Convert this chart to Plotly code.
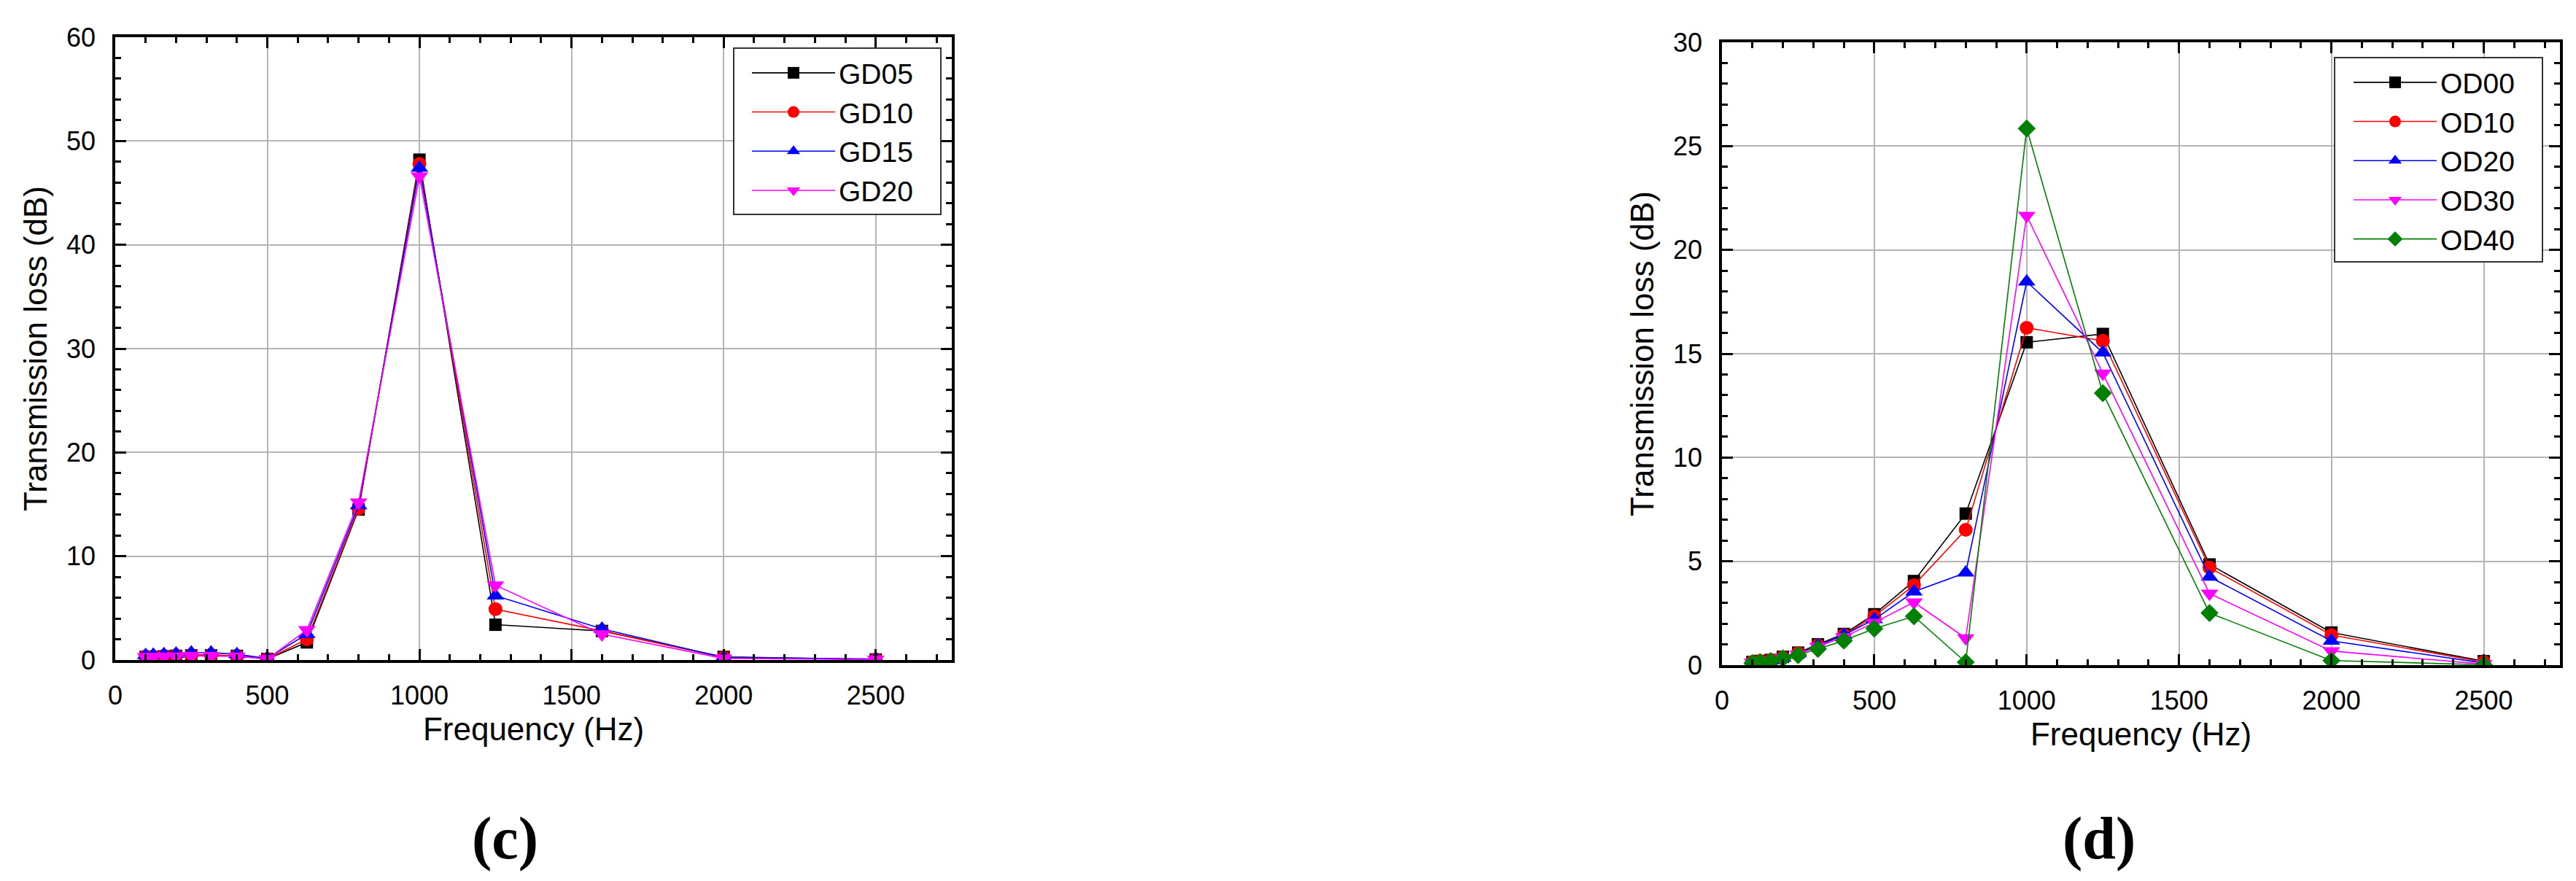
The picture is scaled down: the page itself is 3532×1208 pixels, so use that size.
"""Transmission loss vs frequency, panels (c) and (d)."""

import plotly.graph_objects as go

FREQ_HZ = [100, 125, 160, 200, 250, 315, 400, 500, 630, 800, 1000, 1250, 1600, 2000, 2500]

GD_NAMES = ["GD05", "GD10", "GD15", "GD20"]
GD05 = [0.3, 0.3, 0.35, 0.4, 0.45, 0.45, 0.4, 0.1, 1.7, 14.5, 48.2, 3.4, 2.8, 0.3, 0.05]
GD10 = [0.35, 0.35, 0.4, 0.45, 0.5, 0.5, 0.4, 0.1, 2.0, 14.6, 47.8, 4.9, 2.8, 0.25, 0.05]
GD15 = [0.45, 0.5, 0.55, 0.6, 0.7, 0.7, 0.55, 0.15, 2.5, 14.9, 47.4, 6.2, 3.0, 0.25, 0.1]
GD20 = [0.3, 0.3, 0.35, 0.35, 0.4, 0.4, 0.35, 0.1, 2.9, 15.2, 46.6, 7.2, 2.5, 0.15, 0.05]

OD_NAMES = ["OD00", "OD10", "OD20", "OD30", "OD40"]
OD00 = [0.15, 0.2, 0.25, 0.4, 0.6, 1.0, 1.5, 2.45, 4.05, 7.3, 15.55, 15.95, 4.85, 1.57, 0.19]
OD10 = [0.15, 0.2, 0.25, 0.38, 0.58, 0.95, 1.45, 2.35, 3.85, 6.52, 16.25, 15.62, 4.7, 1.45, 0.15]
OD20 = [0.12, 0.18, 0.22, 0.35, 0.55, 0.95, 1.45, 2.2, 3.54, 4.45, 18.47, 15.05, 4.25, 1.17, 0.1]
OD30 = [0.12, 0.18, 0.22, 0.35, 0.52, 0.9, 1.35, 2.05, 3.03, 1.3, 21.65, 14.05, 3.45, 0.68, 0.05]
OD40 = [0.1, 0.15, 0.2, 0.33, 0.48, 0.78, 1.18, 1.76, 2.35, 0.14, 25.85, 13.1, 2.51, 0.22, 0.02]

COLORS = ["#000000", "#ff0000", "#0000ff", "#ff00ff", "#008000"]
SYMBOLS = ["square", "circle", "triangle-up", "triangle-down", "diamond"]
SIZES = [17, 19, 21, 21, 19]

W, H = 3532, 1208
FONT = "Liberation Sans, Arial, sans-serif"
LEGEND_ITEM_W = 114


def _px_x(px):
    return px / W


def _px_y(px):
    return 1 - px / H


def _add_series(fig, names, series, xa, ya, legend):
    for i, (name, ys) in enumerate(zip(names, series)):
        fig.add_trace(go.Scatter(
            x=FREQ_HZ, y=ys, name=name, mode="lines+markers",
            line=dict(color=COLORS[i], width=1.6),
            marker=dict(symbol=SYMBOLS[i], size=SIZES[i], color=COLORS[i]),
            xaxis=xa, yaxis=ya, legend=legend,
        ))


def _legend(left_px, top_px):
    return dict(
        x=_px_x(left_px), y=_px_y(top_px), xanchor="left", yanchor="top",
        bgcolor="rgba(0,0,0,0)", borderwidth=0,
        font=dict(family=FONT, size=39, color="black"),
        itemwidth=LEGEND_ITEM_W, tracegroupgap=0,
    )


fig = go.Figure()
_add_series(fig, GD_NAMES, [GD05, GD10, GD15, GD20], "x", "y", "legend")
_add_series(fig, OD_NAMES, [OD00, OD10, OD20, OD30, OD40], "x2", "y2", "legend2")

axis_common = dict(
    showline=True, linecolor="black", linewidth=3.5, mirror="allticks",
    ticks="inside", ticklen=15, tickwidth=3, tickcolor="black",
    showgrid=True, gridcolor="#b4b4b4", gridwidth=2,
    zeroline=False, automargin=False,
    tickfont=dict(family=FONT, size=36, color="black"),
    title_font=dict(family=FONT, size=44, color="black"),
)

x_common = dict(
    axis_common, range=[0, 2750], tick0=0, dtick=500,
    minor=dict(ticks="inside", ticklen=8, tickwidth=3, tickcolor="black",
               dtick=100, showgrid=False),
    ticklabelstandoff=14,
    title=dict(text="Frequency (Hz)", standoff=12),
)


def _y_axis(domain, anchor, top, major, minor):
    return dict(
        axis_common, domain=domain, anchor=anchor,
        range=[0, top], tick0=0, dtick=major,
        minor=dict(ticks="inside", ticklen=8, tickwidth=3, tickcolor="black",
                   dtick=minor, showgrid=False),
        ticklabelstandoff=16,
        title=dict(text="Transmission loss (dB)", standoff=14),
    )


fig.update_layout(
    width=W, height=H,
    margin=dict(l=0, r=0, t=0, b=0),
    paper_bgcolor="white", plot_bgcolor="white",
    xaxis=dict(x_common, domain=[_px_x(150), _px_x(1297)], anchor="y"),
    yaxis=_y_axis([_px_y(897), _px_y(43)], "x", 60, 10, 2),
    xaxis2=dict(x_common, domain=[_px_x(2353), _px_x(3502)], anchor="y2"),
    yaxis2=_y_axis([_px_y(904), _px_y(50)], "x2", 30, 5, 1),
    legend=_legend(1142 - LEGEND_ITEM_W - 10, 60),
    legend2=_legend(3338 - LEGEND_ITEM_W - 10, 73),
)

# legend frames (white boxes hiding the grid behind the legends)
for x0, y0, x1, y1 in [(998, 58, 1282, 286), (3193, 71, 3478, 351)]:
    fig.add_shape(
        type="rect", xref="paper", yref="paper", layer="above",
        x0=_px_x(x0), x1=_px_x(x1), y0=_px_y(y1), y1=_px_y(y0),
        fillcolor="white", line=dict(color="#333333", width=2),
    )

# panel labels under each chart
for label, cx in [("(c)", 684), ("(d)", 2870)]:
    fig.add_annotation(
        text=f"<b>{label}</b>", x=_px_x(cx), y=_px_y(1141),
        xref="paper", yref="paper", showarrow=False,
        xanchor="center", yanchor="middle",
        font=dict(family="Liberation Serif, serif", size=82, color="black"),
    )

fig.write_html("out.html")
